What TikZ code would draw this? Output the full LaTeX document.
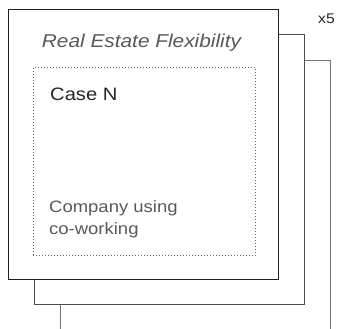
\documentclass[tikz,border=0pt]{standalone}
\usepackage{fontspec}
\setmainfont{Liberation Sans}[FakeStretch=1.12]
\begin{document}
\begin{tikzpicture}[x=1pt,y=-1pt,
  sheet/.style={line width=0.9pt,fill=white},
  caselabel/.style={anchor=base west,inner sep=0pt,text=black!85},
  notelabel/.style={anchor=base west,inner sep=0pt,text=black!65,align=left}]
  \useasboundingbox (0,0) rectangle (338,329);
  \clip (0,0) rectangle (338,329);
  % stacked sheets, back to front
  \draw[sheet,draw=black!55] (60,60) rectangle (330,331);
  \draw[sheet,draw=black!70] (34,34) rectangle (304,304);
  \node[sheet,draw=black!88,minimum width=270pt,minimum height=270pt,anchor=north west,inner sep=0pt]
    (front) at (8,9) {};
  % inner dotted frame
  \node[draw=black!60,line width=0.9pt,dash pattern=on 0.9pt off 2.1pt,
    minimum width=222pt,minimum height=188pt,anchor=north west,inner sep=0pt]
    (inner) at (33,67) {};
  % labels
  \node[anchor=base,inner sep=0pt,text=black!65,font=\fontsize{18.6}{20}\selectfont\itshape]
    (title) at (141.5,48) {Real Estate Flexibility};
  \node[caselabel,font=\fontsize{18}{20}\selectfont] (case) at (50,100.5) {Case N};
  \node[notelabel,font=\fontsize{16.5}{22}\selectfont] (note1) at (49,212) {Company using};
  \node[notelabel,font=\fontsize{16.5}{22}\selectfont] (note2) at (49,234) {co-working};
  \node[anchor=base west,inner sep=0pt,text=black!85,font=\fontsize{14}{16}\selectfont]
    (count) at (318,23.5) {x5};
\end{tikzpicture}
\end{document}
